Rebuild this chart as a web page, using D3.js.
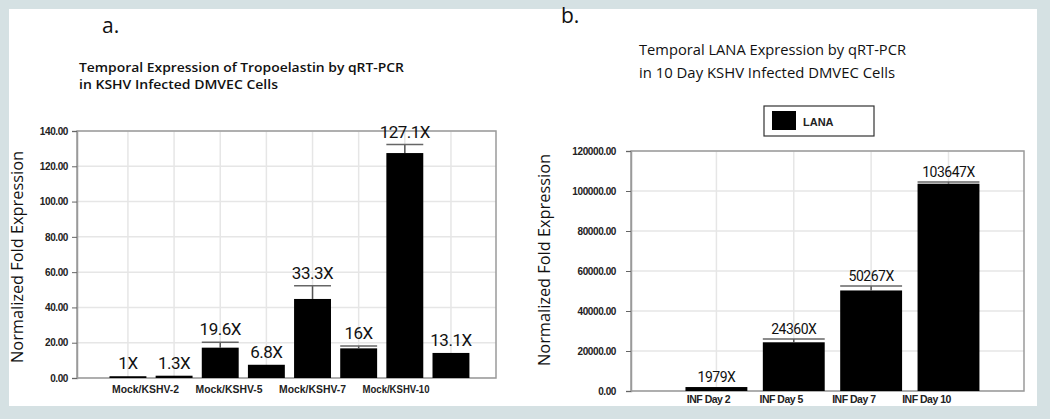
<!DOCTYPE html>
<html lang="en">
<head>
<meta charset="UTF-8">
<title>Temporal Expression by qRT-PCR</title>
<script src="https://d3js.org/d3.v7.min.js"></script>
<style>
    body { margin: 0; background: #d5e1e3; }
    svg { display: block; }
    .tick-lbl { font-family: 'Liberation Sans Narrow', 'Liberation Sans', Arial, sans-serif; font-weight: bold; fill: #222; }
    .val-lbl { font-family: Roboto, 'Liberation Sans', sans-serif; fill: #111; }
    .title { font-family: 'Open Sans', 'DejaVu Sans', sans-serif; fill: #111; }
</style>
</head>
<body>
<svg id="chart" width="1050" height="419"></svg>
<script>
    // panel a: tropoelastin
    const barsA = ["M2", "K2", "M5", "K5", "M7", "K7", "M10", "K10"];
    const valuesA = [1.0, 1.3, 17.2, 7.5, 44.8, 16.8, 127.5, 14.2];
    const errTopA = [1.0, 1.3, 20.2, 7.5, 52.3, 18.1, 132.3, 14.2];
    const foldA = ["1X", "1.3X", "19.6X", "6.8X", "33.3X", "16X", "127.1X", "13.1X"];
    const groupsA = ["Mock/KSHV-2", "Mock/KSHV-5", "Mock/KSHV-7", "Mock/KSHV-10"];
    const ticksA = [0, 20, 40, 60, 80, 100, 120, 140];

    // panel b: LANA
    const barsB = ["INF Day 2", "INF Day 5", "INF Day 7", "INF Day 10"];
    const valuesB = [1979, 24360, 50267, 103647];
    const errTopB = [1979, 26000, 52500, 104500];
    const foldB = ["1979X", "24360X", "50267X", "103647X"];
    const ticksB = [0, 20000, 40000, 60000, 80000, 100000, 120000];

    const svg = d3.select("#chart");

    // white sheet
    svg.append("rect").attr("x", 9).attr("y", 9).attr("width", 1028).attr("height", 397).attr("fill", "white");

    function drawPanel(o) {
        const g = svg.append("g");
        const x = d3.scaleBand().domain(o.bars).range([o.left, o.right]).paddingInner(0.2).paddingOuter(0.64).align(0.55);
        const y = d3.scaleLinear().domain([0, o.max]).range([o.bottom, o.top]);

        // grid
        g.selectAll(".hg").data(o.ticks).join("line")
            .attr("x1", o.left).attr("x2", o.right)
            .attr("y1", d => y(d)).attr("y2", d => y(d))
            .attr("stroke", "#e6e6e6").attr("stroke-width", 1.5);
        g.selectAll(".vg").data(o.bars).join("line")
            .attr("x1", d => x(d) + x.bandwidth() / 2).attr("x2", d => x(d) + x.bandwidth() / 2)
            .attr("y1", o.top).attr("y2", o.bottom)
            .attr("stroke", "#e6e6e6").attr("stroke-width", 1.5);

        // frame
        g.append("rect").attr("x", o.left).attr("y", o.top)
            .attr("width", o.right - o.left).attr("height", o.bottom - o.top)
            .attr("fill", "none").attr("stroke", "#9a9a9a").attr("stroke-width", 1.5);

        // y axis
        const ax = g.append("g").attr("transform", `translate(${o.left},0)`)
            .call(d3.axisLeft(y).tickValues(o.ticks).tickSize(5).tickPadding(o.tickPad).tickFormat(d3.format(".2f")));
        ax.select(".domain").attr("stroke", "#9a9a9a").attr("stroke-width", 1.5);
        ax.selectAll(".tick line").attr("stroke", "#666");
        ax.selectAll(".tick text").attr("class", "tick-lbl").style("font-size", o.tickFont + "px")
            .attr("fill", "#222").style("letter-spacing", "-0.4px");

        // bars
        g.selectAll(".bar").data(o.values).join("rect")
            .attr("x", (d, i) => x(o.bars[i])).attr("width", x.bandwidth())
            .attr("y", d => y(d)).attr("height", d => o.bottom - y(d))
            .attr("fill", "black");

        // error bars
        o.errTop.forEach((e, i) => {
            if (e <= o.values[i]) return;
            const cx = x(o.bars[i]) + x.bandwidth() / 2;
            g.append("line").attr("x1", cx).attr("x2", cx).attr("y1", y(o.values[i])).attr("y2", y(e))
                .attr("stroke", "#555").attr("stroke-width", 1.5);
            g.append("line").attr("x1", x(o.bars[i])).attr("x2", x(o.bars[i]) + x.bandwidth())
                .attr("y1", y(e)).attr("y2", y(e)).attr("stroke", "#666").attr("stroke-width", 1.5);
        });

        // fold labels
        g.selectAll(".val").data(o.fold).join("text")
            .attr("class", "val-lbl")
            .attr("x", (d, i) => x(o.bars[i]) + x.bandwidth() / 2)
            .attr("y", (d, i) => y(o.errTop[i]) - o.valGap)
            .attr("text-anchor", "middle")
            .style("font-size", o.valFont + "px")
            .style("letter-spacing", "-0.5px")
            .text(d => d);

        // category labels
        const xl = d3.scalePoint().domain(o.labels).range(o.labelRange);
        g.selectAll(".cat").data(o.labels).join("text")
            .attr("class", "tick-lbl")
            .attr("x", d => xl(d)).attr("y", o.labelY)
            .attr("text-anchor", "middle")
            .style("font-size", o.catFont + "px")
            .attr("textLength", o.catLen).attr("lengthAdjust", "spacingAndGlyphs")
            .text(d => d);

        // y title
        g.append("text").attr("class", "title")
            .attr("transform", `translate(${o.yTitleX},${o.yTitleY}) rotate(-90)`)
            .attr("text-anchor", "middle")
            .style("font-size", "16px")
            .attr("textLength", 212).attr("lengthAdjust", "spacingAndGlyphs")
            .text("Normalized Fold Expression");

        // panel title
        o.title.forEach((t, i) => {
            g.append("text").attr("class", "title")
                .attr("x", o.titleX).attr("y", o.titleY[i])
                .style("font-size", o.titleFont + "px")
                .style("font-weight", o.titleWeight)
                .attr("textLength", o.titleLen[i]).attr("lengthAdjust", "spacingAndGlyphs")
                .text(t);
        });

        g.append("text").attr("class", "title")
            .attr("x", o.letterX).attr("y", o.letterY)
            .style("font-size", "21px")
            .text(o.letter);
        return g;
    }

    drawPanel({
        bars: barsA, values: valuesA, errTop: errTopA, fold: foldA, ticks: ticksA, max: 140,
        left: 77, right: 496, top: 131, bottom: 378,
        tickPad: 4, tickFont: 10, valFont: 17, valGap: 7,
        labels: groupsA, labelRange: [145.5, 396], labelY: 393, catFont: 11, catLen: 67,
        yTitleX: 23, yTitleY: 257,
        title: ["Temporal Expression of Tropoelastin by qRT-PCR", "in KSHV Infected DMVEC Cells"],
        titleX: 79, titleY: [72, 89], titleLen: [325, 199], titleFont: 13, titleWeight: 600,
        letter: "a.", letterX: 102, letterY: 33
    });

    const gB = drawPanel({
        bars: barsB, values: valuesB, errTop: errTopB, fold: foldB, ticks: ticksB, max: 120000,
        left: 631, right: 1024, top: 151, bottom: 391,
        tickPad: 10, tickFont: 10, valFont: 14, valGap: 5,
        labels: barsB, labelRange: [708.5, 926.5], labelY: 403, catFont: 11, catLen: null,
        yTitleX: 550, yTitleY: 260,
        title: ["Temporal LANA Expression by qRT-PCR", "in 10 Day KSHV Infected DMVEC Cells"],
        titleX: 639, titleY: [54.5, 78], titleLen: [267, 256], titleFont: 15, titleWeight: 400,
        letter: "b.", letterX: 561, letterY: 23
    });

    // narrower day labels, as in the reference
    gB.selectAll("text.tick-lbl").filter(function () { return this.textContent.startsWith("INF"); })
        .style("font-size", "10.5px").style("letter-spacing", "-0.5px");

    // legend
    const lg = gB.append("g").attr("transform", "translate(764,106)");
    lg.append("rect").attr("width", 110).attr("height", 30).attr("fill", "white").attr("stroke", "#333").attr("stroke-width", 1.2);
    lg.append("rect").attr("x", 8).attr("y", 5).attr("width", 24).attr("height", 19).attr("fill", "black");
    lg.append("text").attr("class", "tick-lbl").attr("x", 39).attr("y", 19.5)
        .style("font-size", "11px").text("LANA");
</script>
</body>
</html>
